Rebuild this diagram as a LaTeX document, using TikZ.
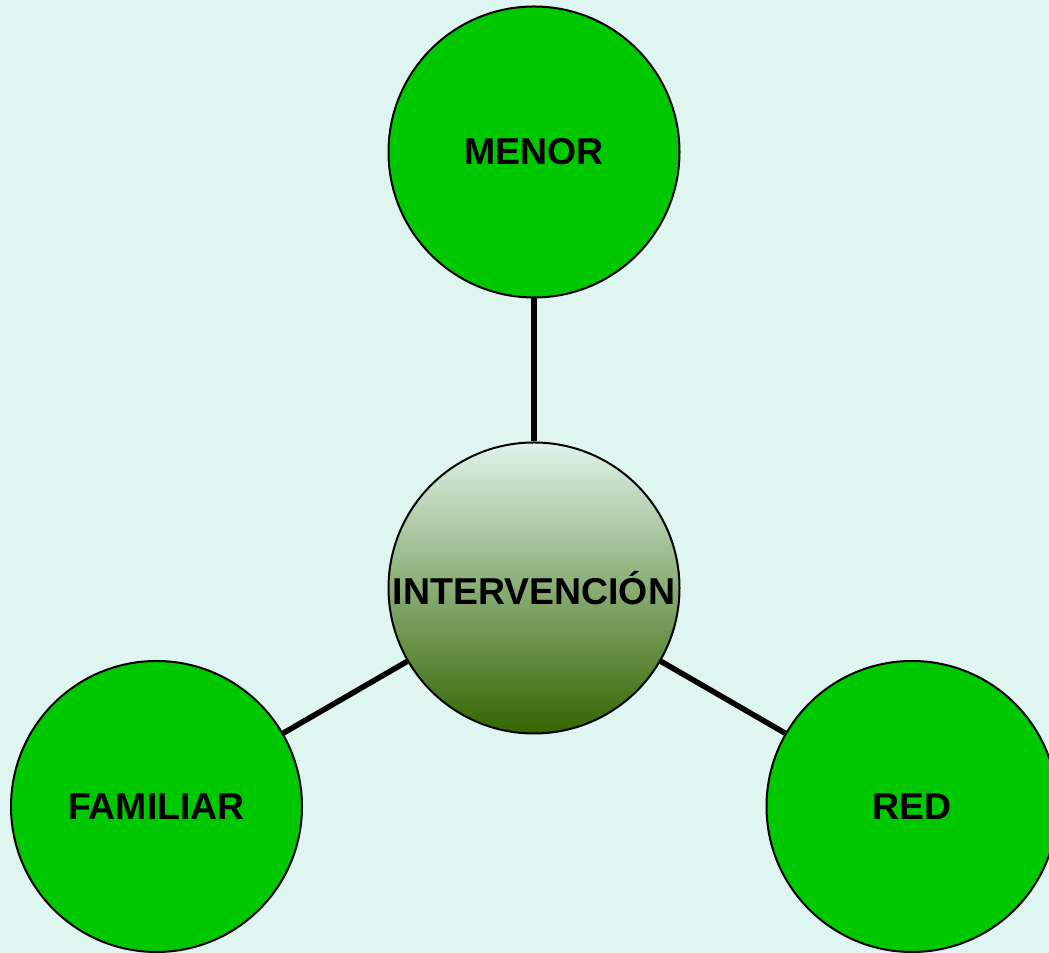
\documentclass[tikz,border=0pt]{standalone}
\usepackage{fontspec}
\setmainfont{Liberation Sans}
\usetikzlibrary{positioning}
\definecolor{bg-cyan}{HTML}{DEF5F0}
\definecolor{leaf-green}{HTML}{00C800}
\definecolor{pale-green}{HTML}{E0F2EA}
\definecolor{dark-green}{HTML}{336600}
\newlength{\basisa}
\setlength{\basisa}{1cm}

\begin{document}
\begin{tikzpicture}[
    bubble/.style={circle, draw, line width=0.04\basisa, minimum size=5.82\basisa,
        inner sep=0pt, font=\bfseries\fontsize{21.3}{25}\selectfont},
    spoke/.style={line width=0.11\basisa}]
    \fill[bg-cyan] (0,0) rectangle (20.98\basisa,19.06\basisa);
    \useasboundingbox (0,0) rectangle (20.98\basisa,19.06\basisa);

    \draw (10.68\basisa,7.30\basisa) 
		node[bubble, top color=pale-green, bottom color=dark-green] 
			(Intervencion) {INTERVENCIÓN};

    \draw (10.68\basisa,16.02\basisa) 
		node[bubble, fill=leaf-green] 
			(Menor) {MENOR};

    \draw (3.13\basisa,2.93\basisa) 
		node[bubble, fill=leaf-green] 
			(Familiar) {FAMILIAR};

    \draw (18.24\basisa,2.93\basisa) 
		node[bubble, fill=leaf-green] 
			(Red) {RED};

	\draw[spoke] (Intervencion) -- (Menor);
	\draw[spoke] (Intervencion) -- (Familiar);
	\draw[spoke] (Intervencion) -- (Red);
\end{tikzpicture}
\end{document}
